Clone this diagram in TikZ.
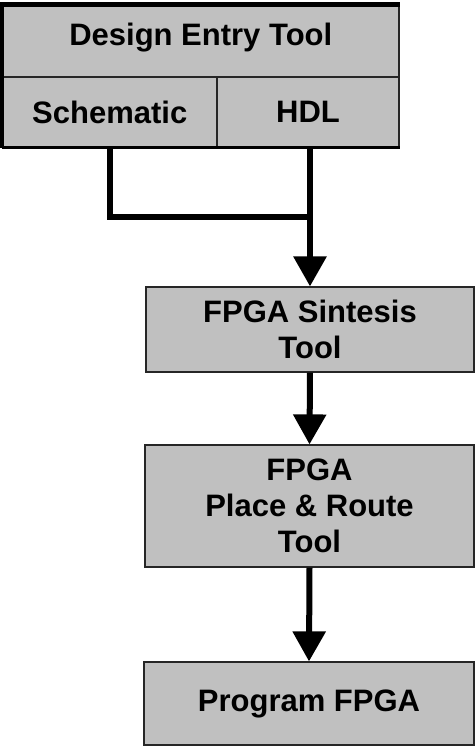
\documentclass[tikz,border=0pt]{standalone}
\usepackage{fontspec}
\setmainfont{Liberation Sans}
\usetikzlibrary{arrows.meta}
\definecolor{boxgray}{RGB}{192,192,192}
\tikzset{
  box/.style={draw=black!85, line width=1.2pt, fill=boxgray, rectangle, inner sep=0pt,
    align=center, font=\fontsize{31}{36}\selectfont\bfseries},
  conn/.style={line width=6pt, black},
  flow/.style={conn, -{Triangle[width=32pt,length=30pt]}}
}
\begin{document}
\begin{tikzpicture}[x=1pt,y=-1pt]
\useasboundingbox (0,0) rectangle (475,747);
% top compound box
\node[box, minimum width=396.5pt, minimum height=71.5pt, text height=22.5pt, text depth=14.5pt] (design) at (200.75,41.25) {Design Entry Tool};
\node[box, minimum width=214.5pt, minimum height=70pt] (schem) at (109.75,112) {Schematic};
\node[box, minimum width=182pt, minimum height=70pt] (hdl) at (308,112) {HDL};
\draw[line width=5pt, line join=miter] (design.north east) -- (design.north west) -- (schem.south west);
\draw[line width=3pt] (schem.south west) -- (hdl.south east);
% lower boxes
\node[box, minimum width=328pt, minimum height=85pt] (syn) at (310,329.5) {FPGA Sintesis\\Tool};
\node[box, minimum width=329pt, minimum height=122pt] (par) at (309.5,506) {FPGA\\Place \& Route\\Tool};
\node[box, minimum width=330pt, minimum height=83pt] (prog) at (309,703.5) {Program FPGA};
% connectors
\coordinate (join) at (310,217);
\draw[conn] (schem.south) |- (join);
\draw[flow] (hdl.south -| syn.north) -- (syn.north);
\draw[flow] (syn.south) -- (par.north);
\draw[flow] (par.south) -- (prog.north);
\end{tikzpicture}
\end{document}
